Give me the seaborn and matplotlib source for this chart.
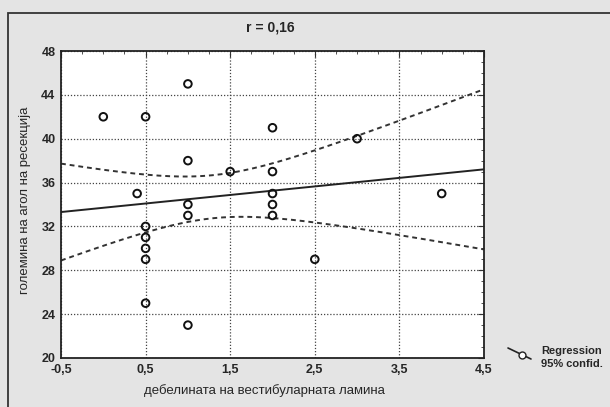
import numpy as np
import pandas as pd
import matplotlib
matplotlib.use("Agg")
import matplotlib.pyplot as plt
import seaborn as sns
from matplotlib.lines import Line2D
from matplotlib.patches import Rectangle
from matplotlib.ticker import MultipleLocator, FuncFormatter

# data (last six entries sit on top of visible points)
lamina = [0.0, 0.4, 0.5, 0.5, 0.5, 0.5, 0.5, 0.5,
          1.0, 1.0, 1.0, 1.0, 1.0, 1.5,
          2.0, 2.0, 2.0, 2.0, 2.0, 2.5, 3.0, 4.0,
          1.0, 1.5, 2.0, 1.0, 0.5, 1.0]
angle = [42, 35, 42, 32, 31, 30, 29, 25,
         45, 38, 34, 33, 23, 37,
         41, 37, 35, 34, 33, 29, 40, 35,
         38, 37, 37, 34, 32, 34]
x_ticks = [-0.5, 0.5, 1.5, 2.5, 3.5, 4.5]
y_ticks = [20, 24, 28, 32, 36, 40, 44, 48]
title = "r = 0,16"
x_label = "дебелината на вестибуларната ламина"
y_label = "големина на агол на ресекција"
legend_labels = ["Regression", "95% confid."]

df = pd.DataFrame({"x": lamina, "y": angle})

sns.set_style("white")
plt.rcParams["font.family"] = ["Liberation Sans", "DejaVu Sans"]

fig = plt.figure(figsize=(6.1, 4.07), dpi=100)
fig.patch.set_facecolor("#e4e4e4")
fig.patches.append(Rectangle((8 / 610, -0.1), 1.1, 1 - 13 / 407 + 0.1,
                             transform=fig.transFigure, fill=False,
                             edgecolor="#333333", linewidth=1.3))

ax = fig.add_axes([61 / 610, 1 - 358 / 407, 423 / 610, 307 / 407])
ax.set_facecolor("white")

# linear fit and 95% confidence band for the mean
x = df["x"].to_numpy()
y = df["y"].to_numpy()
n = len(x)
slope, intercept = np.polyfit(x, y, 1)
resid = y - (intercept + slope * x)
s = np.sqrt(np.sum(resid ** 2) / (n - 2))
sxx = np.sum((x - x.mean()) ** 2)
t_crit = 2.056  # t(0.975, df=26)
xs = np.linspace(-0.5, 4.5, 200)
fit = intercept + slope * xs
half = t_crit * s * np.sqrt(1 / n + (xs - x.mean()) ** 2 / sxx)
band = pd.DataFrame({"x": xs, "fit": fit, "lo": fit - half, "hi": fit + half})

sns.lineplot(data=band, x="x", y="fit", ax=ax, color="#222222", lw=1.4)
sns.lineplot(data=band, x="x", y="lo", ax=ax, color="#333333", lw=1.4,
             linestyle=(0, (2.5, 2)))
sns.lineplot(data=band, x="x", y="hi", ax=ax, color="#333333", lw=1.4,
             linestyle=(0, (2.5, 2)))
# overlapping points drawn once so their rings don't look heavier
sns.scatterplot(data=df.drop_duplicates(), x="x", y="y", ax=ax, marker="o",
                s=30, facecolor="none", edgecolor="#111111", linewidth=1.4,
                zorder=3)

ax.set_xlim(-0.5, 4.5)
ax.set_ylim(20, 48)
ax.set_xticks(x_ticks)
ax.set_yticks(y_ticks)
ax.xaxis.set_minor_locator(MultipleLocator(0.25))
ax.yaxis.set_minor_locator(MultipleLocator(1))
comma = FuncFormatter(lambda v, p: f"{v:g}".replace(".", ","))
ax.xaxis.set_major_formatter(comma)
ax.yaxis.set_major_formatter(comma)
ax.tick_params(which="both", direction="in", top=True, right=True,
               color="#333333")
ax.tick_params(which="major", length=4, labelsize=9, pad=4)
ax.tick_params(which="minor", length=2.5)
for lbl in ax.get_xticklabels() + ax.get_yticklabels():
    lbl.set_fontweight("bold")
ax.grid(True, which="major", linestyle=(0, (1, 1.5)), color="#444444",
        linewidth=0.9)
for sp in ax.spines.values():
    sp.set_color("#222222")
    sp.set_linewidth(1.3)

ax.set_xlabel("")
ax.set_ylabel("")
fig.text(264 / 610, 1 - 391 / 407, x_label, ha="center", va="center",
         fontsize=9.5)
fig.text(25 / 610, 1 - 200 / 407, y_label, ha="center", va="center",
         rotation=90, fontsize=9.5)
fig.text(270 / 610, 1 - 28 / 407, title, ha="center", va="center",
         fontsize=10, fontweight="bold")

# legend symbol drawn in figure coordinates
fig.lines.append(Line2D([508 / 610, 531 / 610], [1 - 348 / 407, 1 - 359 / 407],
                        transform=fig.transFigure, color="#222222", lw=1.2))
fig.lines.append(Line2D([522 / 610], [1 - 354.5 / 407], transform=fig.transFigure,
                        marker="o", markersize=5, markerfacecolor="white",
                        markeredgecolor="#222222", lw=0))
fig.text(541 / 610, 1 - 351 / 407, legend_labels[0], ha="left", va="center",
         fontsize=8, fontweight="bold")
fig.text(541 / 610, 1 - 364 / 407, legend_labels[1], ha="left", va="center",
         fontsize=8, fontweight="bold")

fig.savefig("out.png", dpi=100, facecolor=fig.get_facecolor())
